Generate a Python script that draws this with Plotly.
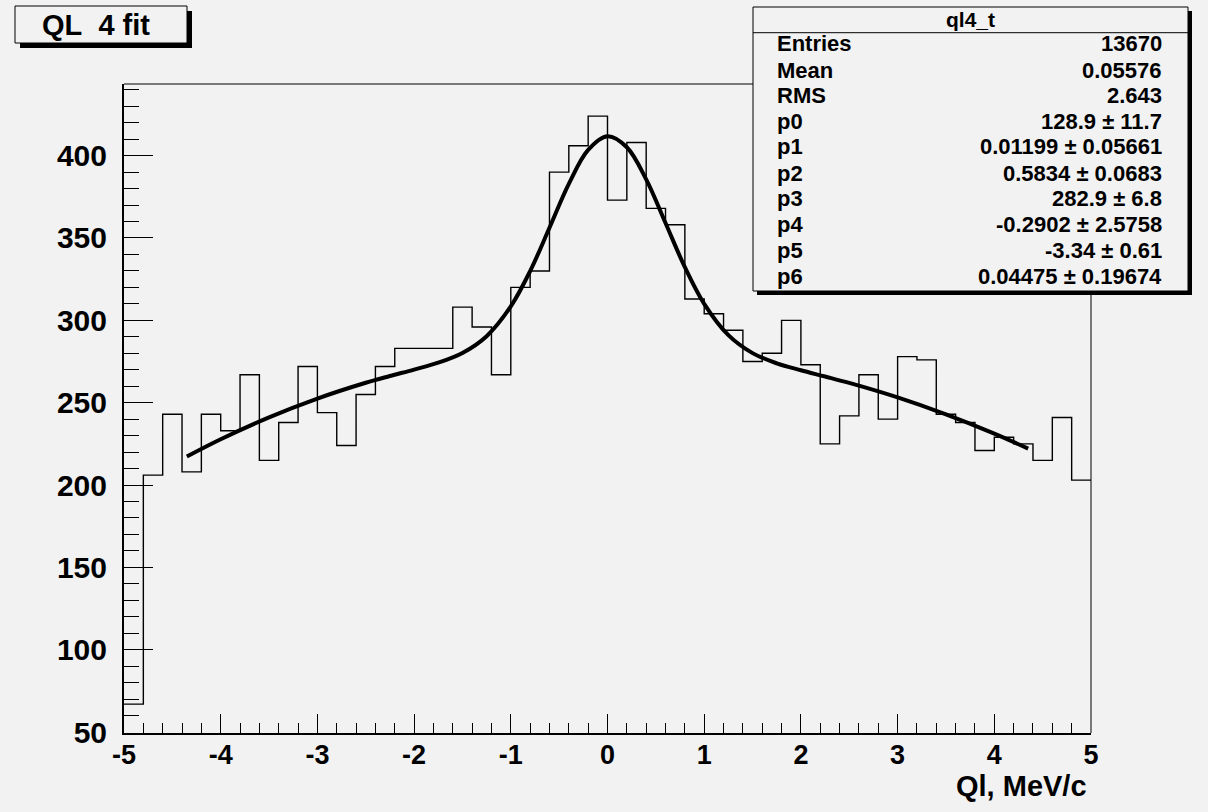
import numpy as np
import plotly.graph_objects as go

# ---------------- data ----------------
bin_edges = np.linspace(-5.0, 5.0, 51)
counts = [67, 206, 243, 208, 243, 233, 267, 215, 238, 272,
          244, 224, 255, 272, 283, 283, 283, 308, 296, 267,
          320, 330, 390, 406, 424, 373, 408, 368, 358, 313,
          304, 294, 275, 280, 300, 273, 225, 242, 267, 240,
          278, 276, 243, 238, 221, 229, 225, 215, 241, 203]

fit_x = [-4.35, -4.0, -3.5, -3.0, -2.5, -2.25, -2.0, -1.75, -1.5, -1.25, -1.0, -0.8,
         -0.6, -0.4, -0.2, 0.0, 0.2, 0.4, 0.6, 0.8, 1.0, 1.25, 1.5, 1.75, 2.0,
         2.25, 2.5, 3.0, 3.5, 4.0, 4.35]
fit_y = [217.3, 227.8, 241.1, 252.5, 262.1, 266.2, 270.1, 274.3, 280.2, 290.4, 308.5, 329.9,
         356.2, 382.9, 403.5, 411.8, 405.1, 385.6, 359.1, 332.3, 310.0, 291.0, 280.1, 273.9, 269.7,
         265.9, 262.0, 253.2, 242.9, 231.2, 222.1]

x_tickvals = [-5, -4, -3, -2, -1, 0, 1, 2, 3, 4, 5]
x_ticktext = ["-5", "-4", "-3", "-2", "-1", "0", "1", "2", "3", "4", "5"]
y_tickvals = [50, 100, 150, 200, 250, 300, 350, 400]
y_ticktext = ["50", "100", "150", "200", "250", "300", "350", "400"]

stats_title = "ql4_t"
stats_labels = ["Entries", "Mean", "RMS", "p0", "p1", "p2", "p3", "p4", "p5", "p6"]
stats_values = ["13670", "0.05576", "2.643", "128.9 \u00b1 11.7", "0.01199 \u00b1 0.05661",
                "0.5834 \u00b1 0.0683", "282.9 \u00b1 6.8", "-0.2902 \u00b1 2.5758",
                "-3.34 \u00b1 0.61", "0.04475 \u00b1 0.19674"]
plot_title = "QL\u00a0\u00a04 fit"
x_title = "Ql, MeV/c"

# ---------------- layout geometry (pixels) ----------------
W, H = 1208, 812
L, R, T, B = 124, 1091, 84, 733
BG = "#f2f2f2"
FONT = "Liberation Sans, Arial, Helvetica, sans-serif"


def px(xp):
    return (xp - L) / (R - L)


def py(yp):
    return (B - yp) / (B - T)


fig = go.Figure()

hx = list(bin_edges[:-1]) + [bin_edges[-1]]
hy = list(counts) + [counts[-1]]
fig.add_trace(go.Scatter(x=hx, y=hy, mode="lines", line=dict(shape="hv", color="black", width=1.4),
                         hoverinfo="skip", showlegend=False))
fig.add_trace(go.Scatter(x=fit_x, y=fit_y, mode="lines",
                         line=dict(shape="spline", smoothing=1.0, color="black", width=4),
                         hoverinfo="skip", showlegend=False))

fig.update_layout(
    width=W, height=H,
    margin=dict(l=L, r=W - R, t=T, b=H - B, pad=0),
    paper_bgcolor=BG, plot_bgcolor=BG,
    showlegend=False,
    font=dict(family=FONT, color="black"),
)

fig.update_xaxes(
    range=[-5, 5], showgrid=False, zeroline=False,
    showline=True, linecolor="black", linewidth=2, mirror=False,
    ticks="inside", ticklen=19, tickwidth=1.2, tickcolor="black",
    tickmode="array", tickvals=x_tickvals, ticktext=x_ticktext,
    minor=dict(ticks="inside", ticklen=10, tickwidth=1.2, tickcolor="black",
               tick0=-5, dtick=0.2, showgrid=False),
    tickfont=dict(family=FONT, size=27, color="black", weight="bold"),
    ticklabelstandoff=-3,
)
fig.update_yaxes(
    range=[49.45, 443.5], showgrid=False, zeroline=False,
    showline=True, linecolor="black", linewidth=2, mirror=False,
    ticks="inside", ticklen=29, tickwidth=1.2, tickcolor="black",
    tickmode="array", tickvals=y_tickvals, ticktext=y_ticktext,
    minor=dict(ticks="inside", ticklen=15, tickwidth=1.2, tickcolor="black",
               tick0=50, dtick=10, showgrid=False),
    tickfont=dict(family=FONT, size=30, color="black", weight="bold"),
    ticklabelstandoff=9,
)

shapes = []
# frame top and right (thin)
shapes.append(dict(type="line", xref="paper", yref="paper", x0=0, x1=1, y0=1, y1=1,
                   line=dict(color="black", width=1)))
shapes.append(dict(type="line", xref="paper", yref="paper", x0=1, x1=1, y0=0, y1=1,
                   line=dict(color="black", width=1)))

# stats box with shadow
sx0, sx1, sy0, sy1 = 753, 1188, 7, 291
shapes.append(dict(type="rect", xref="paper", yref="paper", layer="above",
                   x0=px(sx0 + 4), x1=px(sx1 + 4), y0=py(sy1 + 4), y1=py(sy0 + 4),
                   line=dict(width=0), fillcolor="black"))
shapes.append(dict(type="rect", xref="paper", yref="paper", layer="above",
                   x0=px(sx0), x1=px(sx1), y0=py(sy1), y1=py(sy0),
                   line=dict(width=1, color="black"), fillcolor=BG))
shapes.append(dict(type="line", xref="paper", yref="paper", layer="above",
                   x0=px(sx0), x1=px(sx1), y0=py(32.7), y1=py(32.7),
                   line=dict(width=1, color="black")))

# title box with shadow
tx0, tx1, ty0, ty1 = 15, 187, 6, 43
shapes.append(dict(type="rect", xref="paper", yref="paper", layer="above",
                   x0=px(tx0 + 5), x1=px(tx1 + 5), y0=py(ty1 + 5), y1=py(ty0 + 5),
                   line=dict(width=0), fillcolor="black"))
shapes.append(dict(type="rect", xref="paper", yref="paper", layer="above",
                   x0=px(tx0), x1=px(tx1), y0=py(ty1), y1=py(ty0),
                   line=dict(width=1, color="black"), fillcolor=BG))
fig.update_layout(shapes=shapes)

ann = []
ann.append(dict(text=plot_title, x=px(96), y=py(25), xref="paper", yref="paper",
                xanchor="center", yanchor="middle", showarrow=False,
                font=dict(family=FONT, size=29, color="black", weight="bold")))
ann.append(dict(text=stats_title, x=px((sx0 + sx1) / 2), y=py(20), xref="paper", yref="paper",
                xanchor="center", yanchor="middle", showarrow=False,
                font=dict(family=FONT, size=21, color="black", weight="bold")))
row_y = [43.3, 70.5, 95.5, 121.5, 147, 173, 198.5, 224.5, 251, 276.5]
for lab, val, ry in zip(stats_labels, stats_values, row_y):
    ann.append(dict(text=lab, x=px(775), y=py(ry), xref="paper", yref="paper",
                    xanchor="left", yanchor="middle", showarrow=False,
                    font=dict(family=FONT, size=22, color="black", weight="bold")))
    ann.append(dict(text=val, x=px(1164), y=py(ry), xref="paper", yref="paper",
                    xanchor="right", yanchor="middle", showarrow=False,
                    font=dict(family=FONT, size=22, color="black", weight="bold")))
ann.append(dict(text=x_title, x=px(1089), y=py(786), xref="paper", yref="paper",
                xanchor="right", yanchor="middle", showarrow=False,
                font=dict(family=FONT, size=29, color="black", weight="bold")))
fig.update_layout(annotations=ann)

fig.write_html("out.html")
